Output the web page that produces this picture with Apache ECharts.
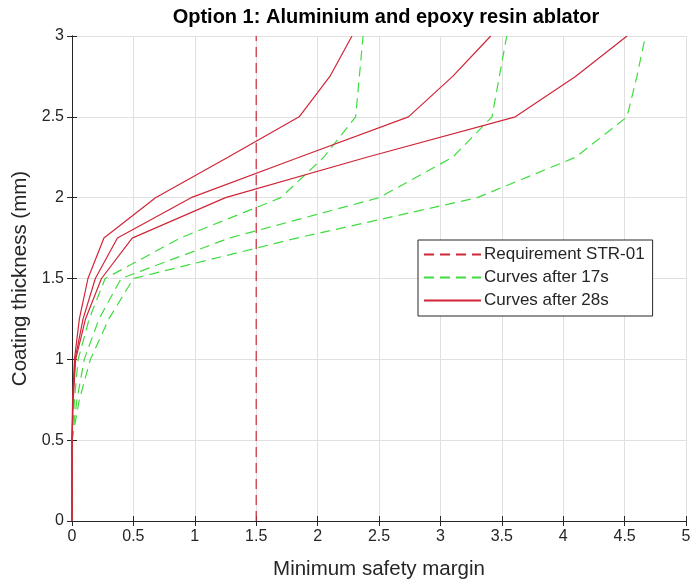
<!DOCTYPE html>
<html>
<head>
<meta charset="utf-8">
<script src="https://cdn.jsdelivr.net/npm/echarts@6/dist/echarts.min.js"></script>
<style>
html,body{margin:0;padding:0;background:#fff;}
#chart{width:694px;height:585px;}
</style>
</head>
<body>
<div id="chart"></div>
<script>
// Coating thickness levels (mm), shared by all curves
const thickness = [0, 0.5, 0.75, 1.0, 1.25, 1.5, 1.75, 2.0, 2.25, 2.5, 2.75, 3.0];
// Minimum safety margin, curves after 28 s (red solid)
const margin28sA = [0, 0, 0.005, 0.02, 0.06, 0.13, 0.26, 0.68, 1.27, 1.85, 2.1, 2.28];
const margin28sB = [0, 0, 0.007, 0.025, 0.09, 0.19, 0.37, 0.97, 1.85, 2.74, 3.1, 3.41];
const margin28sC = [0, 0, 0.01, 0.03, 0.11, 0.24, 0.49, 1.25, 2.4, 3.61, 4.1, 4.52];
// Minimum safety margin, curves after 17 s (green dashed)
const margin17sA = [0, 0, 0.02, 0.05, 0.14, 0.27, 0.88, 1.7, 2.05, 2.31, 2.34, 2.37];
const margin17sB = [0, 0, 0.04, 0.1, 0.22, 0.4, 1.28, 2.5, 3.1, 3.42, 3.48, 3.54];
const margin17sC = [0, 0, 0.06, 0.15, 0.3, 0.5, 1.83, 3.3, 4.1, 4.52, 4.6, 4.67];
// Requirement STR-01
const reqMargin = [1.5, 1.5];
const reqThickness = [0, 3];
// Axis ticks
const xTicks = [0, 0.5, 1, 1.5, 2, 2.5, 3, 3.5, 4, 4.5, 5];
const yTicks = [0, 0.5, 1, 1.5, 2, 2.5, 3];

const names = ['Requirement STR-01', 'Curves after 17s', 'Curves after 28s'];
const RED = '#d02638';
const GREEN = '#3fdc3f';
const TXT = '#262626';
const FONT = '"Liberation Sans", Arial, sans-serif';

function pairs(xs, ys) { return xs.map((x, i) => [x, ys[i]]); }

const chart = echarts.init(document.getElementById('chart'), null, {renderer: 'canvas'});

const axisCommon = {
  min: 0,
  interval: 0.5,
  axisLine: {show: true, lineStyle: {color: TXT, width: 1}},
  axisTick: {show: true, inside: true, length: 5, lineStyle: {color: TXT}},
};

function mkSeries(name, xs, ys, color, dashed) {
  return {
    name: name,
    type: 'line',
    data: pairs(xs, ys),
    symbol: 'none',
    showSymbol: false,
    smooth: false,
    silent: true,
    animation: false,
    lineStyle: {color: color, width: 1.2, type: dashed ? [10, 6] : 'solid'},
    itemStyle: {color: color},
    xAxisIndex: 0, yAxisIndex: 0
  };
}

const option = {
  backgroundColor: '#ffffff',
  animation: false,
  title: {
    text: 'Option 1: Aluminium and epoxy resin ablator',
    left: 381, textAlign: 'center', top: 2,
    textStyle: {fontFamily: FONT, fontWeight: 'bold', fontSize: 20, color: '#000'}
  },
  grid: {left: 72, right: 8, top: 36, bottom: 64, containLabel: false},
  legend: {
    orient: 'vertical',
    left: 418, top: 240,
    data: names,
    selectedMode: false,
    itemWidth: 57, itemHeight: 14, itemGap: 6,
    padding: [6, 8, 7, 5],
    borderColor: TXT, borderWidth: 1,
    backgroundColor: '#fff',
    itemStyle: {opacity: 0, borderWidth: 0},
    textStyle: {fontFamily: FONT, fontSize: 17, color: TXT, padding: [0, 0, 0, -2]}
  },
  xAxis: [
    Object.assign({}, axisCommon, {
      type: 'value', max: 5, position: 'bottom',
      name: 'Minimum safety margin', nameLocation: 'middle', nameGap: 38,
      nameTextStyle: {fontFamily: FONT, fontSize: 20.5, color: TXT},
      axisLabel: {fontFamily: FONT, fontSize: 16, color: TXT, margin: 8,
        customValues: xTicks, formatter: v => String(v)},
      splitLine: {show: true, lineStyle: {color: '#e0e0e0', width: 1}}
    }),
    Object.assign({}, axisCommon, {
      type: 'value', max: 5, position: 'top',
      axisLabel: {show: false}, splitLine: {show: false}
    })
  ],
  yAxis: [
    Object.assign({}, axisCommon, {
      type: 'value', max: 3, position: 'left',
      name: 'Coating thickness (mm)', nameLocation: 'middle', nameGap: 38,
      nameTextStyle: {fontFamily: FONT, fontSize: 20.5, color: TXT},
      axisLabel: {fontFamily: FONT, fontSize: 16, color: TXT, margin: 8,
        customValues: yTicks, formatter: v => String(v)},
      splitLine: {show: true, lineStyle: {color: '#e0e0e0', width: 1}}
    }),
    Object.assign({}, axisCommon, {
      type: 'value', max: 3, position: 'right',
      axisLabel: {show: false}, splitLine: {show: false}
    })
  ],
  series: [
    mkSeries(names[0], reqMargin, reqThickness, RED, true),
    mkSeries(names[1], margin17sA, thickness, GREEN, true),
    mkSeries(names[1], margin17sB, thickness, GREEN, true),
    mkSeries(names[1], margin17sC, thickness, GREEN, true),
    mkSeries(names[2], margin28sA, thickness, RED, false),
    mkSeries(names[2], margin28sB, thickness, RED, false),
    mkSeries(names[2], margin28sC, thickness, RED, false)
  ]
};
chart.setOption(option);
</script>
</body>
</html>
